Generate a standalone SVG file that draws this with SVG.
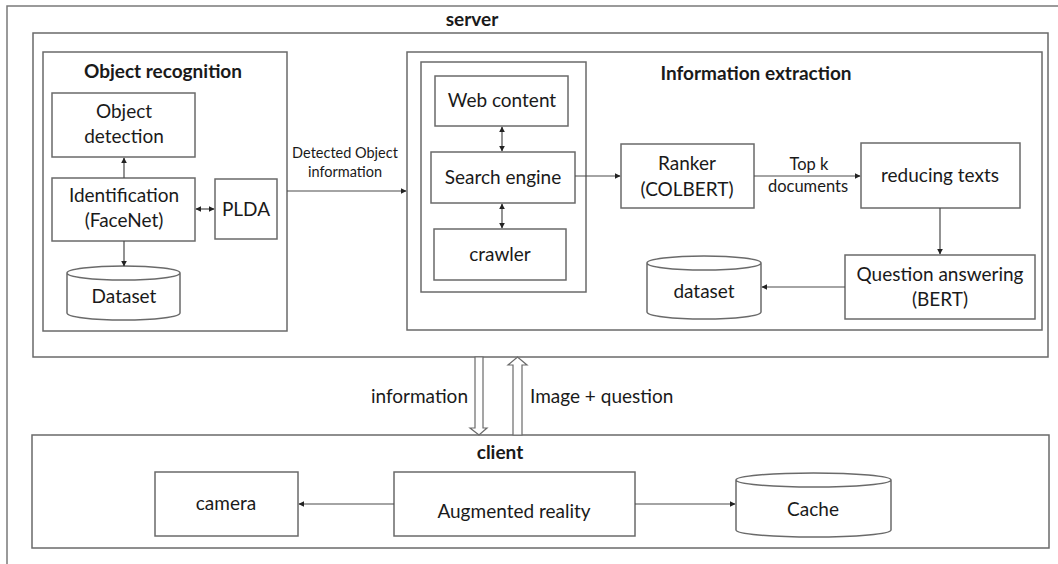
<svg xmlns="http://www.w3.org/2000/svg" width="1058" height="564" viewBox="0 0 1058 564">
<defs>
<style>
.b{fill:#fff;stroke:#6a6a6a;stroke-width:1.5}
.f{fill:none;stroke:#7a7a7a;stroke-width:1.5}
.t{font-family:Lato,"Liberation Sans",sans-serif;font-size:19px;fill:#1a1a1a;text-anchor:middle}
.s{font-size:14.5px}
.k{font-size:16.5px}
.h{font-weight:bold;font-size:19px}
.c{stroke:#4a4a4a;stroke-width:1.2;fill:none}
.ha{fill:#fff;stroke:#6a6a6a;stroke-width:1.2}
</style>
<marker id="a" viewBox="0 0 10 10" refX="9" refY="5" markerWidth="6" markerHeight="6" orient="auto-start-reverse" markerUnits="userSpaceOnUse"><path d="M0,0 L10,5 L0,10 z" fill="#222"/></marker>
</defs>
<g id="frame"><path class="f" d="M7,564 V6 H1058"/></g>
<g id="server"><rect class="b" x="33" y="33" width="1015" height="324"/><text class="t h" x="472" y="26">server</text></g>
<g id="object-recognition"><rect class="b" x="43" y="52" width="244" height="279"/><text class="t h" x="163" y="78">Object recognition</text></g>
<g id="object-detection"><rect class="b" x="52" y="93" width="143" height="64"/><text class="t" x="124" y="118">Object</text><text class="t" x="124" y="143">detection</text></g>
<g id="identification"><rect class="b" x="52" y="178" width="143" height="63"/><text class="t" x="124" y="202">Identification</text><text class="t" x="124" y="227">(FaceNet)</text></g>
<g id="plda"><rect class="b" x="215" y="179" width="62" height="60"/><text class="t" x="246" y="216">PLDA</text></g>
<g id="dataset-or"><path class="b" d="M67,273 V313 A56.5,7 0 0 0 180,313 V273 A56.5,7 0 0 0 67,273 A56.5,7 0 0 0 180,273"/><text class="t" x="124" y="303">Dataset</text></g>
<g id="information-extraction"><rect class="b" x="407" y="52" width="635" height="278"/><text class="t h" x="756" y="80">Information extraction</text></g>
<g id="search-group"><rect class="b" x="421" y="62" width="165" height="230"/></g>
<g id="web-content"><rect class="b" x="435" y="76" width="133" height="50"/><text class="t" x="502" y="107">Web content</text></g>
<g id="search-engine"><rect class="b" x="431" y="152" width="144" height="51"/><text class="t" x="503" y="184">Search engine</text></g>
<g id="crawler"><rect class="b" x="434" y="229" width="132" height="51"/><text class="t" x="500" y="261">crawler</text></g>
<g id="ranker"><rect class="b" x="621" y="144" width="133" height="64"/><text class="t" x="687" y="170">Ranker</text><text class="t" x="687" y="196">(COLBERT)</text></g>
<g id="reducing-texts"><rect class="b" x="861" y="143" width="159" height="65"/><text class="t" x="940" y="182">reducing texts</text></g>
<g id="question-answering"><rect class="b" x="845" y="255" width="190" height="64"/><text class="t" x="940" y="281">Question answering</text><text class="t" x="940" y="306">(BERT)</text></g>
<g id="dataset-ie"><path class="b" d="M647,263 V312 A57,7 0 0 0 761,312 V263 A57,7 0 0 0 647,263 A57,7 0 0 0 761,263"/><text class="t" x="704" y="298">dataset</text></g>
<g id="client"><rect class="b" x="32" y="435" width="1017" height="113"/><text class="t h" x="500" y="459">client</text></g>
<g id="camera"><rect class="b" x="155" y="472" width="143" height="64"/><text class="t" x="226" y="510">camera</text></g>
<g id="augmented-reality"><rect class="b" x="394" y="472" width="241" height="64"/><text class="t" x="514" y="518">Augmented reality</text></g>
<g id="cache"><path class="b" d="M736,480 V530 A77.5,7 0 0 0 891,530 V480 A77.5,7 0 0 0 736,480 A77.5,7 0 0 0 891,480"/><text class="t" x="813" y="516">Cache</text></g>
<g id="connectors">
<path class="c" d="M124,178 V158" marker-end="url(#a)"/>
<path class="c" d="M124,241 V266" marker-end="url(#a)"/>
<path class="c" d="M196,209 H214" marker-start="url(#a)" marker-end="url(#a)"/>
<path class="c" d="M287,191 H406" marker-end="url(#a)"/>
<text class="t s" x="345" y="158">Detected Object</text>
<text class="t s" x="345" y="177">information</text>
<path class="c" d="M502,127 V151" marker-start="url(#a)" marker-end="url(#a)"/>
<path class="c" d="M502,204 V228" marker-start="url(#a)" marker-end="url(#a)"/>
<path class="c" d="M575,176 H620" marker-end="url(#a)"/>
<path class="c" d="M754,176 H860" marker-end="url(#a)"/>
<text class="t k" x="809" y="170">Top k</text>
<text class="t k" x="808" y="192">documents</text>
<path class="c" d="M940,208 V254" marker-end="url(#a)"/>
<path class="c" d="M845,287 H762" marker-end="url(#a)"/>
<path class="c" d="M394,504 H299" marker-end="url(#a)"/>
<path class="c" d="M635,504 H735" marker-end="url(#a)"/>
<path class="ha" d="M475,357 H483 V428 H487 L479,435 L470,428 H475 Z"/>
<path class="ha" d="M513,435 H522 V365 H527 L517.5,357 L508,365 H513 Z"/>
<text class="t" x="468" y="403" style="text-anchor:end">information</text>
<text class="t" x="530" y="403" style="text-anchor:start">Image + question</text>
</g>
</svg>
